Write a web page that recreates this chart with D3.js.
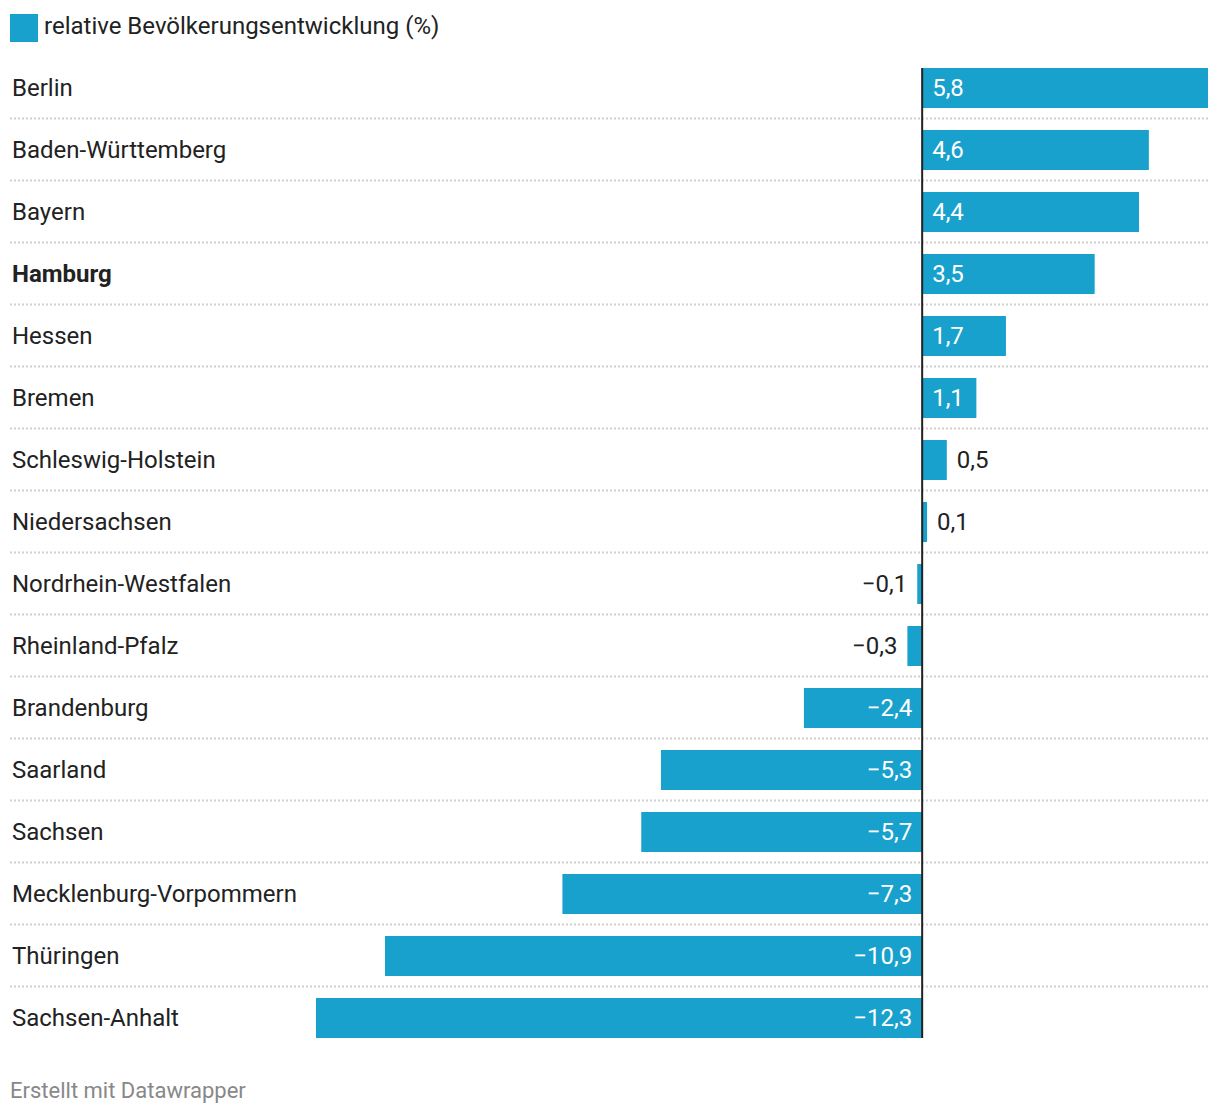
<!DOCTYPE html>
<html>
<head>
<meta charset="utf-8">
<script src="https://cdn.jsdelivr.net/npm/d3@7"></script>
<style>
  html, body { margin: 0; padding: 0; background: #fff; }
  svg { display: block; font-family: Roboto, "Noto Sans", sans-serif; }
</style>
</head>
<body>
<svg id="chart" width="1220" height="1116"></svg>
<script>
const categories = ["Berlin", "Baden-Württemberg", "Bayern", "Hamburg", "Hessen", "Bremen",
  "Schleswig-Holstein", "Niedersachsen", "Nordrhein-Westfalen", "Rheinland-Pfalz",
  "Brandenburg", "Saarland", "Sachsen", "Mecklenburg-Vorpommern", "Thüringen", "Sachsen-Anhalt"];
const values = [5.8, 4.6, 4.4, 3.5, 1.7, 1.1, 0.5, 0.1, -0.1, -0.3, -2.4, -5.3, -5.7, -7.3, -10.9, -12.3];
const highlighted = ["Hamburg"];
const seriesName = "relative Bevölkerungsentwicklung (%)";
const footer = "Erstellt mit Datawrapper";

const color = "#18a1cd";
const svg = d3.select("#chart");
const fontSize = 24;

const data = categories.map((c, i) => ({ name: c, value: values[i] }));

const y = d3.scaleBand()
  .domain(categories)
  .range([57, 57 + 62 * categories.length])
  .paddingInner(22 / 62)
  .paddingOuter(11 / 62);

const x = d3.scaleLinear()
  .domain([d3.min(values), d3.max(values)])
  .range([316, 1208]);

const fmt = v => (v < 0 ? "\u2212" : "") + d3.format(".1f")(Math.abs(v)).replace(".", ",");

// legend
svg.append("rect").attr("x", 10).attr("y", 14).attr("width", 28).attr("height", 28).attr("fill", color);
svg.append("text").attr("x", 44).attr("y", 33.5).attr("font-size", fontSize).attr("fill", "#222").text(seriesName);

// separators
categories.slice(0, -1).forEach((c, i) => {
  const yy = Math.floor(y(c) + y.bandwidth() + y.step() * y.paddingInner() / 2) - 0.5;
  svg.append("line")
    .attr("x1", 10).attr("x2", 1208)
    .attr("y1", yy).attr("y2", yy)
    .attr("stroke", "#d0d0d0").attr("stroke-width", 2)
    .attr("stroke-dasharray", "2,2");
});

// category labels
svg.selectAll("text.cat").data(data).join("text")
  .attr("class", "cat")
  .attr("x", 12)
  .attr("y", d => y(d.name) + y.bandwidth() / 2 + 7.5)
  .attr("font-size", fontSize)
  .attr("font-weight", d => highlighted.includes(d.name) ? 700 : 400)
  .attr("fill", "#222")
  .text(d => d.name);

// bars
svg.selectAll("rect.bar").data(data).join("rect")
  .attr("class", "bar")
  .attr("x", d => x(Math.min(0, d.value)))
  .attr("y", d => y(d.name))
  .attr("width", d => Math.abs(x(d.value) - x(0)))
  .attr("height", y.bandwidth())
  .attr("fill", color);

// value labels
svg.selectAll("text.val").data(data).join("text")
  .attr("class", "val")
  .attr("font-size", fontSize)
  .attr("y", d => y(d.name) + y.bandwidth() / 2 + 7.5)
  .each(function (d) {
    const w = Math.abs(x(d.value) - x(0));
    const inside = w > 50;
    const t = d3.select(this).text(fmt(d.value));
    if (d.value >= 0) {
      t.attr("text-anchor", "start")
       .attr("x", inside ? x(0) + 10 : x(d.value) + 10)
       .attr("fill", inside ? "#fff" : "#222");
    } else {
      t.attr("text-anchor", "end")
       .attr("x", inside ? x(0) - 10 : x(d.value) - 10)
       .attr("fill", inside ? "#fff" : "#222");
    }
  });

// zero line
svg.append("line")
  .attr("x1", x(0)).attr("x2", x(0))
  .attr("y1", y(categories[0])).attr("y2", y(categories[categories.length - 1]) + y.bandwidth())
  .attr("stroke", "#222").attr("stroke-width", 2);

// footer
svg.append("text").attr("x", 10).attr("y", 1097.5).attr("font-size", 22).attr("fill", "#888").text(footer);
</script>
</body>
</html>
